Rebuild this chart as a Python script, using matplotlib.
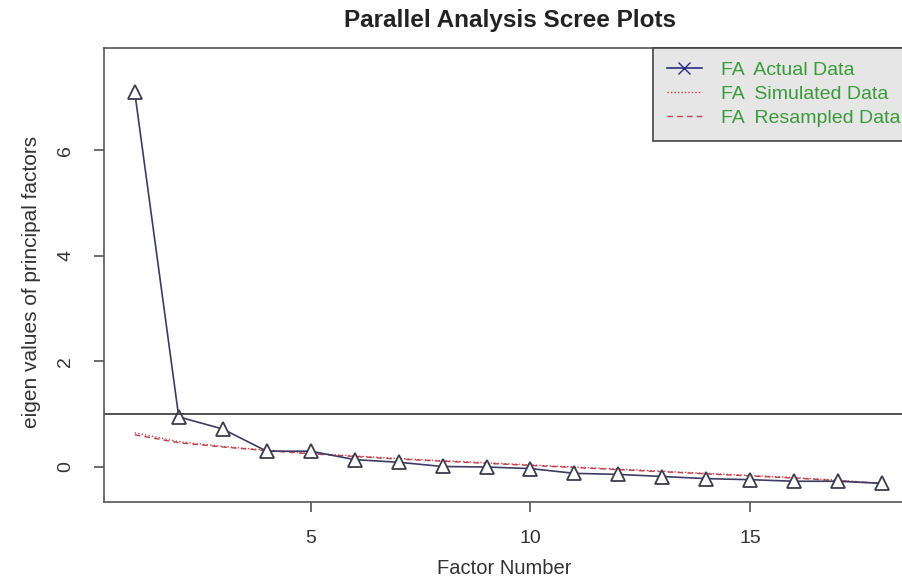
import numpy as np
import matplotlib
matplotlib.use("Agg")
import matplotlib.pyplot as plt
from matplotlib.lines import Line2D

plt.rcParams['font.family'] = ['Liberation Sans', 'DejaVu Sans']

# Data
factors = list(range(1, 19))
actual = [7.10, 0.95, 0.72, 0.30, 0.30, 0.14, 0.09, 0.01, 0.00,
          -0.03, -0.12, -0.14, -0.18, -0.22, -0.24, -0.27, -0.27, -0.31]
simulated = [0.65, 0.48, 0.39, 0.32, 0.26, 0.21, 0.16, 0.12, 0.08,
             0.04, 0.00, -0.04, -0.08, -0.12, -0.16, -0.20, -0.25, -0.31]
resampled = [0.61, 0.46, 0.38, 0.31, 0.25, 0.20, 0.15, 0.11, 0.07,
             0.03, -0.01, -0.05, -0.09, -0.13, -0.17, -0.21, -0.26, -0.31]
legend_labels = ["FA  Actual Data", "FA  Simulated Data", "FA  Resampled Data"]

W, H = 903, 581
fig = plt.figure(figsize=(W / 100, H / 100), dpi=100)
# axes right edge runs past the image, as in the cropped reference
ax = fig.add_axes([104 / W, 1 - 502 / H, (913 - 104) / W, (502 - 48) / H])

ax.plot(factors, simulated, color="#d04040", lw=1.0, ls=(0, (1, 1.5)))
ax.plot(factors, resampled, color="#c04050", lw=1.0, ls=(0, (4, 3)))
ax.plot(factors, actual, color="#3c3c64", lw=1.2, marker="^", ms=10,
        mfc="white", mec="#3c3c50", mew=1.3)
ax.axhline(1, color="#333333", lw=1.2)

ax.set_xlim(0.3, 18.7)
ax.set_ylim(-0.663, 7.94)
ax.set_xticks([5, 10, 15])
ax.set_yticks([0, 2, 4, 6])
ax.set_yticklabels(["0", "2", "4", "6"], rotation=90, va="center")
for s in ax.spines.values():
    s.set_color("#555555")
    s.set_linewidth(1.2)
ax.tick_params(direction="out", length=7.5, width=1.1, color="#444444",
               labelsize=14, labelcolor="#333333")
ax.tick_params(axis="x", pad=13)
ax.tick_params(axis="y", pad=14)

ax.set_xlabel("Factor Number", fontsize=14.5, color="#333333",
              va="center", ha="center")
ax.xaxis.set_label_coords(0.5 - 4 / 809, (502 - 568) / 454)
ax.set_ylabel("eigen values of principal factors", fontsize=15,
              color="#333333", va="center", ha="center")
ax.yaxis.set_label_coords((32 - 104) / 809, (502 - 282) / 454)
fig.text(510 / W, 1 - 20 / H, "Parallel Analysis Scree Plots",
         ha="center", va="center", fontsize=17.5, fontweight="bold",
         color="#222222")

handles = [
    Line2D([], [], color="#2c2c80", lw=1.2, marker="x", ms=8),
    Line2D([], [], color="#d04040", lw=1.0, ls=(0, (1, 1.5))),
    Line2D([], [], color="#c04050", lw=1.0, ls=(0, (4, 3))),
]
leg = ax.legend(handles, legend_labels, loc="upper left",
                bbox_to_anchor=(653 / W, 1 - 48 / H),
                bbox_transform=fig.transFigure, fontsize=14,
                fancybox=False, framealpha=1, borderpad=0.7,
                handlelength=1.8, handletextpad=1.0, borderaxespad=0,
                labelspacing=0.32)
leg.get_frame().set_facecolor("#e6e6e6")
leg.get_frame().set_edgecolor("#444444")
leg.get_frame().set_linewidth(1.2)
for t in leg.get_texts():
    t.set_color("#3a9a3a")

fig.savefig("out.png", dpi=100)
